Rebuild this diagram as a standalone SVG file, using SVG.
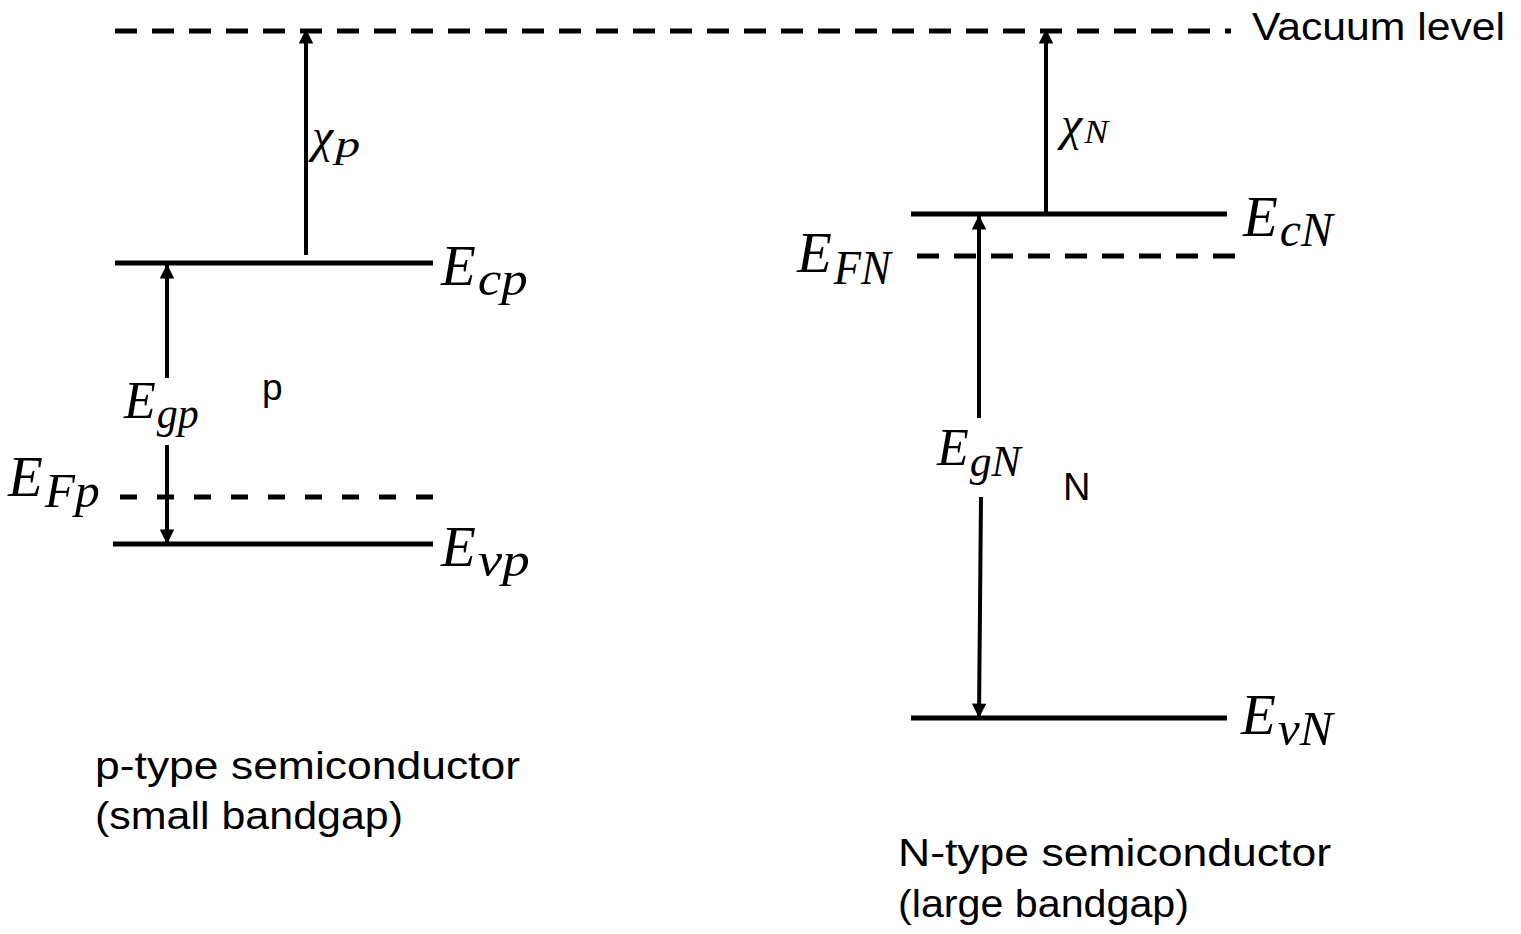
<svg xmlns="http://www.w3.org/2000/svg" width="1521" height="934" viewBox="0 0 1521 934">
<defs>
<style>
.lvl{stroke:#000;stroke-width:5;fill:none}
.dash1{stroke:#000;stroke-width:5;fill:none;stroke-dasharray:22 15}
.dash2{stroke:#000;stroke-width:5;fill:none;stroke-dasharray:17 20}
.arr{stroke:#000;stroke-width:4;fill:none;marker-end:url(#ah)}
.m{font-family:"Liberation Serif","DejaVu Serif",serif;font-style:italic;fill:#000}
.s{font-family:"Liberation Sans",Arial,sans-serif;fill:#000}
</style>
<marker id="ah" viewBox="0 0 10 10" refX="10" refY="5" markerWidth="4" markerHeight="3.6" orient="auto" markerUnits="strokeWidth">
<path d="M0,0 L10,5 L0,10 z" fill="#000"/>
</marker>
</defs>
<rect width="1521" height="934" fill="#fff"/>
<g id="vacuum">
<line class="dash1" x1="115" y1="31" x2="1231" y2="31"/>
<text class="s" x="1252" y="40" font-size="38" textLength="253" lengthAdjust="spacingAndGlyphs">Vacuum level</text>
</g>
<g id="Ecp">
<line class="lvl" x1="115" y1="263" x2="433" y2="263"/>
<text class="m" x="441" y="285" font-size="57">E<tspan font-size="48" dx="2" dy="10" textLength="50" lengthAdjust="spacingAndGlyphs">cp</tspan></text>
</g>
<g id="EFp">
<line class="dash2" x1="433" y1="497" x2="110" y2="497"/>
<text class="m" x="8" y="496" font-size="57">E<tspan font-size="48" dx="2" dy="11" textLength="55" lengthAdjust="spacingAndGlyphs">Fp</tspan></text>
</g>
<g id="Evp">
<line class="lvl" x1="113" y1="544" x2="433" y2="544"/>
<text class="m" x="441" y="566" font-size="57">E<tspan font-size="48" dx="2" dy="10" textLength="52" lengthAdjust="spacingAndGlyphs">vp</tspan></text>
</g>
<g id="EcN">
<line class="lvl" x1="911" y1="214" x2="1227" y2="214"/>
<text class="m" x="1243" y="236" font-size="57">E<tspan font-size="48" dx="2" dy="10" textLength="53" lengthAdjust="spacingAndGlyphs">cN</tspan></text>
</g>
<g id="EFN">
<line class="dash1" x1="1235" y1="256" x2="915" y2="256"/>
<text class="m" x="797" y="272" font-size="57">E<tspan font-size="48" dx="2" dy="12" textLength="57" lengthAdjust="spacingAndGlyphs">FN</tspan></text>
</g>
<g id="EvN">
<line class="lvl" x1="911" y1="718" x2="1227" y2="718"/>
<text class="m" x="1241" y="734" font-size="57">E<tspan font-size="48" dx="2" dy="11" textLength="55" lengthAdjust="spacingAndGlyphs">vN</tspan></text>
</g>
<g id="connectors">
<line class="arr" x1="306" y1="255" x2="306" y2="29"/>
<line class="arr" x1="167" y1="378" x2="167" y2="264"/>
<line class="arr" x1="167" y1="445" x2="167" y2="544"/>
<line class="arr" x1="1046" y1="214" x2="1046" y2="29"/>
<line class="arr" x1="979" y1="418" x2="979" y2="215"/>
<line class="arr" x1="981" y1="497" x2="979" y2="718"/>
</g>
<g id="labels">
<text class="m" x="312" y="152" font-size="48">χ<tspan font-size="38" dx="2" dy="5" textLength="25" lengthAdjust="spacingAndGlyphs">p</tspan></text>
<text class="m" x="1061" y="140" font-size="48">χ<tspan font-size="34" dx="2" dy="3" textLength="24" lengthAdjust="spacingAndGlyphs">N</tspan></text>
<text class="m" x="124" y="418" font-size="52">E<tspan font-size="44" dx="1" dy="10" textLength="42" lengthAdjust="spacingAndGlyphs">gp</tspan></text>
<text class="m" x="937" y="465" font-size="52">E<tspan font-size="44" dx="1" dy="11" textLength="51" lengthAdjust="spacingAndGlyphs">gN</tspan></text>
<text class="s" x="262" y="400" font-size="37">p</text>
<text class="s" x="1063" y="500" font-size="38">N</text>
</g>
<g id="captions">
<text class="s" x="95" y="779" font-size="38" textLength="425" lengthAdjust="spacingAndGlyphs">p-type semiconductor</text>
<text class="s" x="95" y="829" font-size="38" textLength="308" lengthAdjust="spacingAndGlyphs">(small bandgap)</text>
<text class="s" x="898" y="866" font-size="38" textLength="433" lengthAdjust="spacingAndGlyphs">N-type semiconductor</text>
<text class="s" x="898" y="917" font-size="38" textLength="291" lengthAdjust="spacingAndGlyphs">(large bandgap)</text>
</g>
</svg>
